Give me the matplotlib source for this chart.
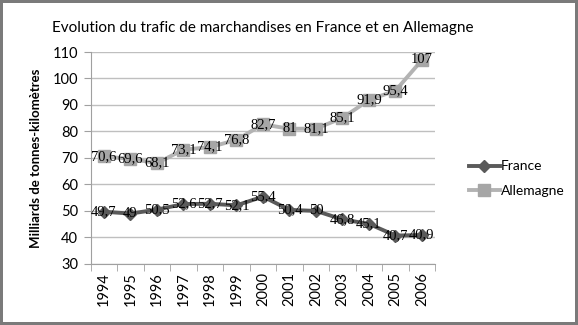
import matplotlib.pyplot as plt
import numpy as np

years = ['1994', '1995', '1996', '1997', '1998', '1999', '2000',
         '2001', '2002', '2003', '2004', '2005', '2006']
france = [49.7, 49, 50.5, 52.6, 52.7, 52.1, 55.4, 50.4, 50, 46.8, 45.1, 40.7, 40.9]
allemagne = [70.6, 69.6, 68.1, 73.1, 74.1, 76.8, 82.7, 81, 81.1, 85.1, 91.9, 95.4, 107]

plt.rcParams['font.family'] = ['Lato', 'DejaVu Sans']

fig = plt.figure(figsize=(5.78, 3.25), dpi=100)
fig.patch.set_edgecolor('#7a7a7a')
fig.patch.set_linewidth(4)
ax = fig.add_axes([0.157, 0.188, 0.596, 0.652])

x = np.arange(len(years))
ax.plot(x, france, color='#5a5a5a', lw=2.8, marker='D', ms=6.5, label='France', zorder=3)
ax.plot(x, allemagne, color='#b3b3b3', lw=2.8, marker='s', ms=8,
        mfc='#a6a6a6', mec='#a6a6a6', label='Allemagne', zorder=3)

def fmt(v):
    return f"{v:g}".replace('.', ',')

for xi, v in zip(x, france):
    ax.text(xi, v, fmt(v), ha='center', va='center', fontsize=10.5,
            family='Liberation Serif', zorder=4)
for xi, v in zip(x, allemagne):
    ax.text(xi, v, fmt(v), ha='center', va='center', fontsize=10.5,
            family='Liberation Serif', zorder=4)

ax.set_ylim(30, 110)
ax.set_yticks(range(30, 111, 10))
ax.set_xlim(-0.5, len(years) - 0.5)
ax.set_xticks(x)
ax.set_xticklabels(years, rotation=90)
ax.set_xticks(np.arange(-0.5, len(years), 1), minor=True)
ax.tick_params(axis='x', which='major', length=0, pad=6, labelsize=10.5, colors='#000000')
ax.tick_params(axis='x', which='minor', length=5, color='#a0a0a0')
ax.tick_params(axis='y', length=5, color='#a0a0a0', labelsize=10.5, pad=4)
ax.grid(axis='y', color='#bfbfbf', lw=1)
ax.set_axisbelow(True)
for s in ['top', 'right']:
    ax.spines[s].set_visible(False)
for s in ['left', 'bottom']:
    ax.spines[s].set_color('#a0a0a0')

ax.set_ylabel('Milliards de tonnes-kilomètres', fontsize=9.5, fontweight='bold', labelpad=8)
fig.text(0.455, 0.915, 'Evolution du trafic de marchandises en France et en Allemagne',
         ha='center', va='center', fontsize=11)

fig.legend(loc='center left', bbox_to_anchor=(0.79, 0.45), frameon=False,
           fontsize=10, handlelength=2.2, labelspacing=0.9, handletextpad=0.1)

fig.savefig('out.png', dpi=100)
